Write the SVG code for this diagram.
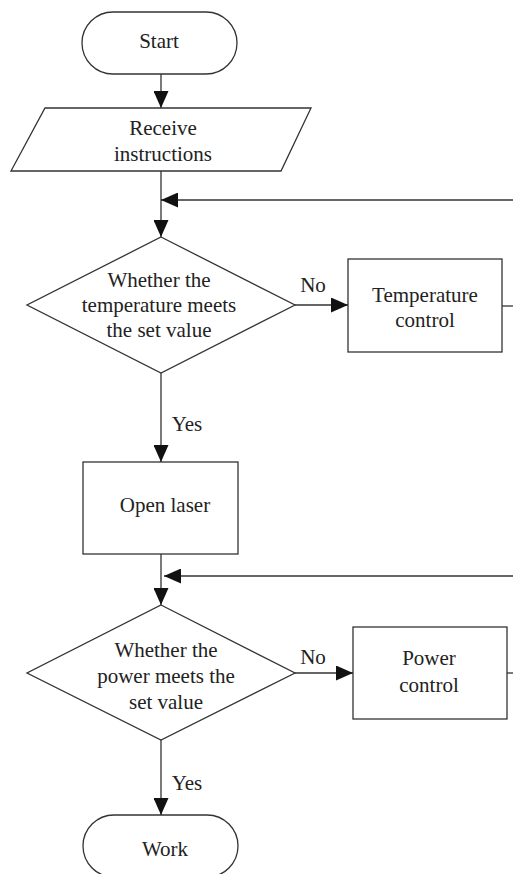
<svg xmlns="http://www.w3.org/2000/svg" width="513" height="874" viewBox="0 0 513 874">
<defs>
<style>
.s{fill:#fff;stroke:#333;stroke-width:1.3}
.c{fill:none;stroke:#333;stroke-width:1.3}
.t{font-family:"Liberation Serif","Times New Roman",serif;font-size:21px;fill:#222;text-anchor:middle}
</style>
<marker id="ah" viewBox="0 0 17 15" refX="17" refY="7.5" markerWidth="17" markerHeight="15" markerUnits="userSpaceOnUse" orient="auto">
<path d="M0,0 L17,7.5 L0,15 Z" fill="#111"/>
</marker>
</defs>
<g id="start">
<rect class="s" x="82" y="12" width="155" height="62" rx="31" ry="31"/>
<text class="t" x="159" y="48">Start</text>
</g>
<g id="receive">
<polygon class="s" points="45,108 311,108 281,171 11,171"/>
<text class="t" x="163" y="135">Receive</text>
<text class="t" x="163" y="161">instructions</text>
</g>
<g id="dec1">
<polygon class="s" points="161,237 295,305 161,373 27,305"/>
<text class="t" x="159" y="287">Whether the</text>
<text class="t" x="159" y="312">temperature meets</text>
<text class="t" x="159" y="337">the set value</text>
</g>
<g id="tempctl">
<rect class="s" x="348" y="259" width="154" height="93"/>
<text class="t" x="425" y="302">Temperature</text>
<text class="t" x="425" y="327">control</text>
</g>
<g id="laser">
<rect class="s" x="83" y="462" width="155" height="92"/>
<text class="t" x="165" y="512">Open laser</text>
</g>
<g id="dec2">
<polygon class="s" points="161,605 295,673 161,740 27,673"/>
<text class="t" x="166" y="657">Whether the</text>
<text class="t" x="166" y="683">power meets the</text>
<text class="t" x="166" y="709">set value</text>
</g>
<g id="powerctl">
<rect class="s" x="353" y="627" width="154" height="92"/>
<text class="t" x="429" y="665">Power</text>
<text class="t" x="429" y="692">control</text>
</g>
<g id="work">
<rect class="s" x="83" y="815" width="155" height="62" rx="31" ry="31"/>
<text class="t" x="165" y="856">Work</text>
</g>
<g id="connectors">
<line class="c" x1="161" y1="74" x2="161" y2="108" marker-end="url(#ah)"/>
<line class="c" x1="161" y1="171" x2="161" y2="237" marker-end="url(#ah)"/>
<line class="c" x1="513" y1="200" x2="161" y2="200" marker-end="url(#ah)"/>
<line class="c" x1="295" y1="305" x2="348" y2="305" marker-end="url(#ah)"/>
<line class="c" x1="502" y1="306" x2="513" y2="306"/>
<line class="c" x1="161" y1="373" x2="161" y2="462" marker-end="url(#ah)"/>
<line class="c" x1="161" y1="554" x2="161" y2="605" marker-end="url(#ah)"/>
<line class="c" x1="513" y1="576" x2="164" y2="576" marker-end="url(#ah)"/>
<line class="c" x1="295" y1="673" x2="353" y2="673" marker-end="url(#ah)"/>
<line class="c" x1="507" y1="673" x2="513" y2="673"/>
<line class="c" x1="161" y1="740" x2="161" y2="815" marker-end="url(#ah)"/>
<text class="t" x="313" y="292">No</text>
<text class="t" x="313" y="664">No</text>
<text class="t" x="187" y="431">Yes</text>
<text class="t" x="187" y="790">Yes</text>
</g>
</svg>
